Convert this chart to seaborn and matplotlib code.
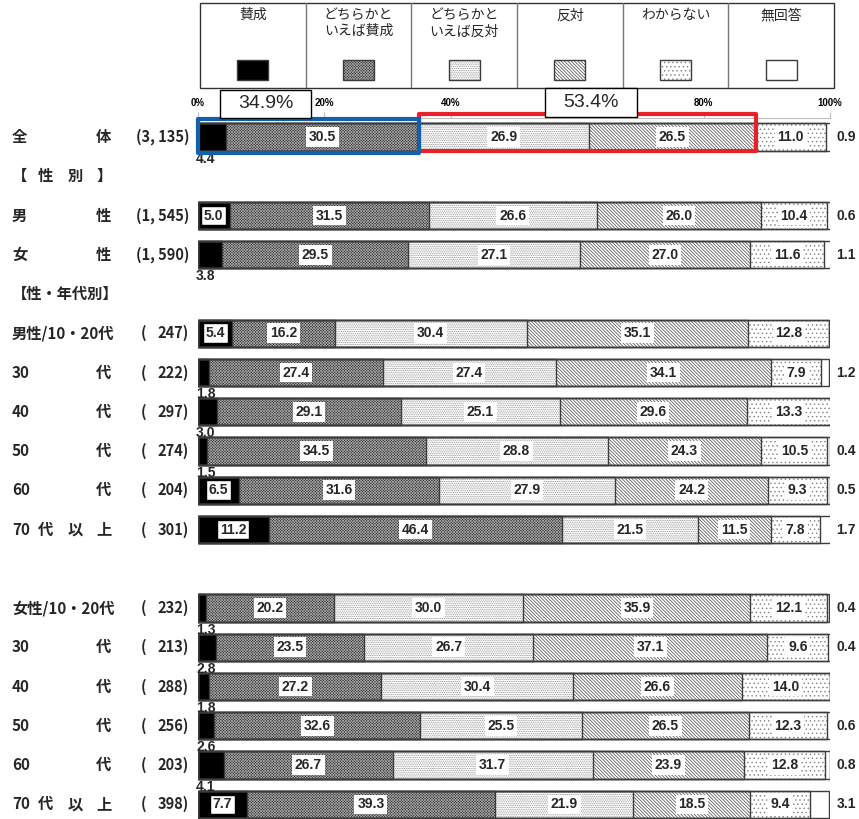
import matplotlib
matplotlib.use('agg')
import matplotlib.pyplot as plt
import matplotlib.patches as mpatches
import matplotlib.transforms as mtransforms
import numpy as np
import pandas as pd
import seaborn as sns

# Legend categories
categories = ['賛成', 'どちらかと\nいえば賛成', 'どちらかと\nいえば反対', '反対', 'わからない', '無回答']

# Rows (top to bottom)
row_keys = ['all', 'male', 'female',
            'm10', 'm30', 'm40', 'm50', 'm60', 'm70',
            'f10', 'f30', 'f40', 'f50', 'f60', 'f70']
row_names = ['全 体', '男 性', '女 性',
             '男性/10・20代', '30 代', '40 代', '50 代', '60 代', '70 代 以 上',
             '女性/10・20代', '30 代', '40 代', '50 代', '60 代', '70 代 以 上']
row_counts = ['(3, 135)', '(1, 545)', '(1, 590)',
              '247', '222', '297', '274', '204', '301',
              '232', '213', '288', '256', '203', '398']
headers = {'_h1': '【 性 別 】', '_h2': '【性・年代別】'}

agree = [4.4, 5.0, 3.8, 5.4, 1.8, 3.0, 1.5, 6.5, 11.2, 1.3, 2.8, 1.8, 2.6, 4.1, 7.7]
rather_agree = [30.5, 31.5, 29.5, 16.2, 27.4, 29.1, 34.5, 31.6, 46.4, 20.2, 23.5, 27.2, 32.6, 26.7, 39.3]
rather_oppose = [26.9, 26.6, 27.1, 30.4, 27.4, 25.1, 28.8, 27.9, 21.5, 30.0, 26.7, 30.4, 25.5, 31.7, 21.9]
oppose = [26.5, 26.0, 27.0, 35.1, 34.1, 29.6, 24.3, 24.2, 11.5, 35.9, 37.1, 26.6, 26.5, 23.9, 18.5]
dont_know = [11.0, 10.4, 11.6, 12.8, 7.9, 13.3, 10.5, 9.3, 7.8, 12.1, 9.6, 14.0, 12.3, 12.8, 9.4]
no_answer = [0.9, 0.6, 1.1, 0.0, 1.2, 0.0, 0.4, 0.5, 1.7, 0.4, 0.4, 0.0, 0.6, 0.8, 3.1]

order = ['all', '_h1', 'male', 'female', '_h2',
         'm10', 'm30', 'm40', 'm50', 'm60', 'm70', '_gap',
         'f10', 'f30', 'f40', 'f50', 'f60', 'f70']

# face, hatch, hatch colour
styles = [('black', None, 'black'),
          ('#262626', 'x' * 12, '#a8a8a8'),
          ('white', '.' * 9, '#8c8c8c'),
          ('white', '\\' * 10, '#444444'),
          ('white', '....', '#808080'),
          ('white', None, '#444444')]

sns.set_style('white')
plt.rcParams['font.family'] = ['Noto Sans CJK JP', 'DejaVu Sans']
plt.rcParams['hatch.linewidth'] = 0.5

W, H = 859, 819
fig = plt.figure(figsize=(W / 100, H / 100), dpi=100)
ax = fig.add_axes([198 / W, 0, 632 / W, 701 / H])

vals = np.array([agree, rather_agree, rather_oppose, oppose, dont_know, no_answer]).T
cum = vals.cumsum(axis=1)
df = pd.DataFrame({'row': row_keys})
for k in range(6):
    df['c%d' % k] = cum[:, k]

bar_w = 0.69
# stacked bars: draw cumulative widths, longest first
for k in reversed(range(6)):
    face, hatch, hc = styles[k]
    sns.barplot(data=df, x='c%d' % k, y='row', order=order, orient='y', color=face,
                saturation=1, hatch=hatch, edgecolor=hc, linewidth=0, width=bar_w,
                errorbar=None, ax=ax)
for k in range(6):
    sns.barplot(data=df, x='c%d' % k, y='row', order=order, orient='y', fill=False,
                color='#3c3c3c', linewidth=1, width=bar_w, errorbar=None, ax=ax)

ax.set_xlim(0, 100)
ax.set_ylim(17.375, -0.484)
ax.set_xlabel('')
ax.set_ylabel('')
ax.set_yticks([])
for s in ['left', 'right', 'bottom']:
    ax.spines[s].set_visible(False)
ax.spines['top'].set_color('#bfbfbf')
ax.xaxis.tick_top()
ax.set_xticks([0, 20, 40, 60, 80, 100])
# 60% is hidden behind the 53.4% call-out in the original
ax.set_xticklabels(['0%', '20%', '40%', '', '80%', '100%'],
                   family='Liberation Sans', weight='bold', fontsize=7)
ax.tick_params(axis='x', colors='#bfbfbf', labelcolor='black', length=4, pad=3)

# value labels
vfont = dict(family='Liberation Sans', weight='bold', fontsize=10)
for i, key in enumerate(row_keys):
    y = order.index(key)
    for k in range(6):
        v = vals[i, k]
        mid = cum[i, k] - v / 2
        if k == 0:
            if v >= 5:
                ax.text(mid, y, '%.1f' % v, ha='center', va='center', zorder=5,
                        bbox=dict(boxstyle='square,pad=0.2', fc='white', ec='black', lw=1), **vfont)
            else:
                ax.text(-0.3, y + 0.55, '%.1f' % v, ha='left', va='center', zorder=5, **vfont)
        elif k == 5:
            if v > 0:
                ax.text(101, y, '%.1f' % v, ha='left', va='center', **vfont)
        else:
            ax.text(mid, y, '%.1f' % v, ha='center', va='center', zorder=5,
                    bbox=dict(boxstyle='square,pad=0.2', fc='white', ec='none'), **vfont)

# left side labels
tr = mtransforms.blended_transform_factory(fig.transFigure, ax.transData)
lfont = dict(weight='bold', fontsize=11, va='center', transform=tr)
cfont = dict(weight='bold', fontsize=10.5, va='center', transform=tr)
piece_x = {1: [(12, 'left')], 2: [(12, 'left'), (103, 'center')],
           4: [(12, 'left'), (45, 'center'), (75, 'center'), (104, 'center')]}
for i, key in enumerate(row_keys):
    y = order.index(key)
    parts = row_names[i].split(' ')
    for txt, (px, ha) in zip(parts, piece_x[len(parts)]):
        fig.text(px / W, y, txt, ha=ha, **lfont)
    if row_counts[i].startswith('('):
        fig.text(189 / W, y, row_counts[i], ha='right', **cfont)
    else:
        fig.text(141 / W, y, '(', ha='left', **cfont)
        fig.text(189 / W, y, row_counts[i] + ')', ha='right', **cfont)
for key, name in headers.items():
    y = order.index(key)
    parts = name.split(' ')
    for txt, (px, ha) in zip(parts, piece_x[len(parts)]):
        fig.text(px / W, y, txt, ha=ha, **lfont)

# highlight boxes on the total row
y0 = order.index('all')
pos_share = agree[0] + rather_agree[0]
neg_share = rather_oppose[0] + oppose[0]
ax.add_patch(mpatches.Rectangle((pos_share, y0 - 0.59), neg_share, 0.95, fill=False,
                                ec='#e8202a', lw=3, joinstyle='round', clip_on=False, zorder=6))
ax.add_patch(mpatches.Rectangle((0, y0 - 0.46), pos_share, 0.87, fill=False,
                                ec='#1060ad', lw=3, joinstyle='round', clip_on=False, zorder=7))


def callout(x0, y0_, w, h, txt):
    fig.patches.append(mpatches.Rectangle((x0 / W, 1 - (y0_ + h) / H), w / W, h / H,
                                          transform=fig.transFigure, fc='white', ec='black', lw=1))
    fig.text((x0 + w / 2) / W, 1 - (y0_ + h / 2) / H, txt, ha='center', va='center',
             family='Liberation Sans', fontsize=14)


callout(220, 90, 91, 28, '%.1f%%' % pos_share)
callout(545, 88, 92, 29, '%.1f%%' % neg_share)

# legend table
lg = fig.add_axes([200 / W, 1 - 88 / H, 634 / W, 85 / H])
lg.set_xlim(0, 6)
lg.set_ylim(0, 1)
lg.axis('off')
lg.add_patch(mpatches.Rectangle((0, 0), 6, 1, fill=False, ec='#333333', lw=1, clip_on=False))
for k in range(1, 6):
    lg.plot([k, k], [0, 1], color='#777777', lw=1)
sw, sh = 0.293, 0.235
for k, cat in enumerate(categories):
    face, hatch, hc = styles[k]
    lg.text(k + 0.5, 0.94, cat, ha='center', va='top', fontsize=10, linespacing=1.2)
    lg.add_patch(mpatches.Rectangle((k + 0.5 - sw / 2, 0.094), sw, sh, fc=face, hatch=hatch,
                                    ec=hc, lw=0))
    lg.add_patch(mpatches.Rectangle((k + 0.5 - sw / 2, 0.094), sw, sh, fill=False,
                                    ec='#3c3c3c', lw=1))

fig.savefig('out.png', dpi=100)
